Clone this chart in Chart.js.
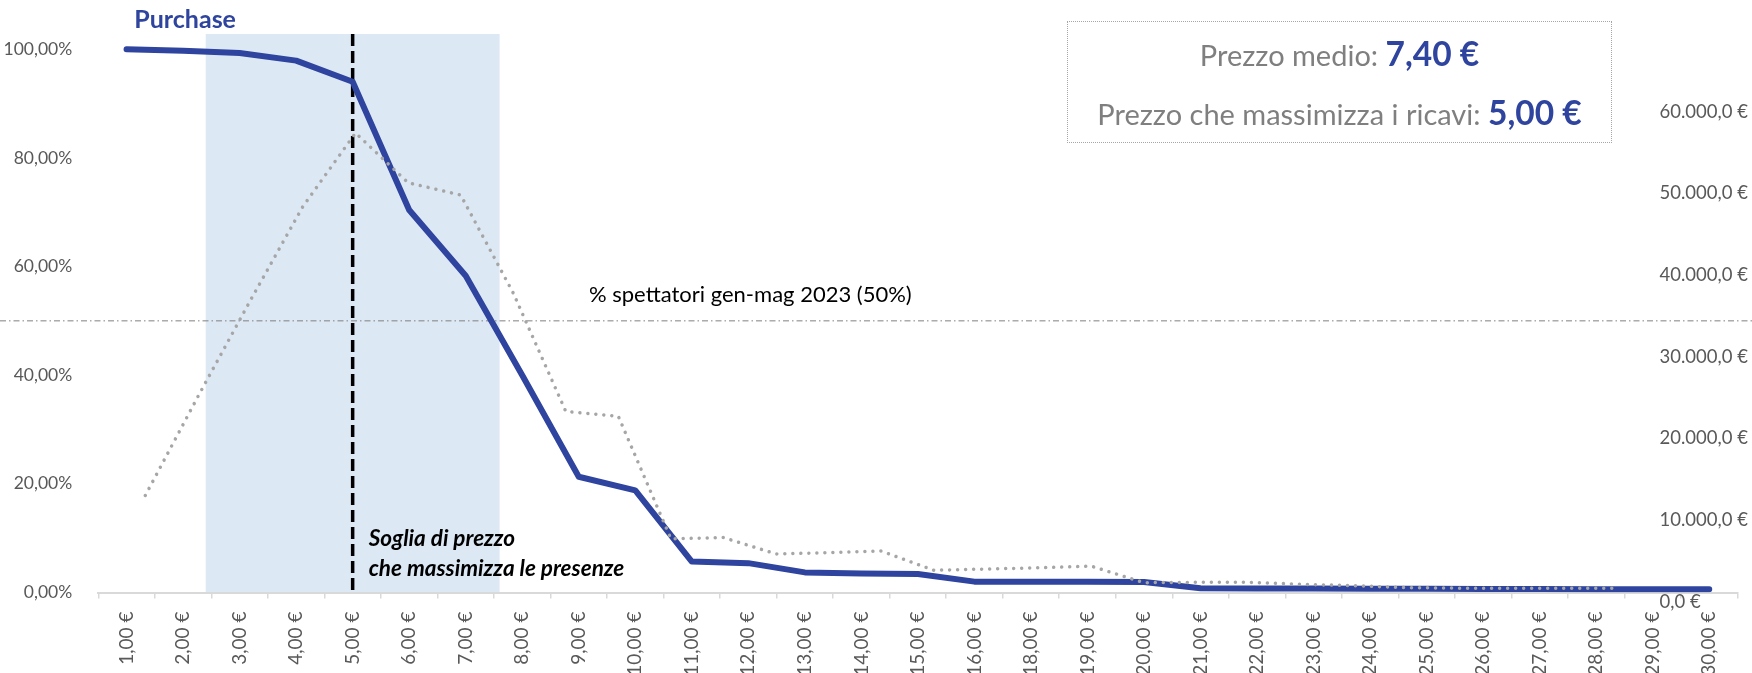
<!DOCTYPE html>
<html lang="it">
<head>
<meta charset="utf-8">
<title>Purchase</title>
<script src="https://cdn.jsdelivr.net/npm/chart.js@4.4.1/dist/chart.umd.min.js"></script>
<style>
  html, body { margin: 0; padding: 0; background: #fff; }
  #wrap { position: relative; width: 1752px; height: 673px; overflow: hidden; }
  #info {
    position: absolute; left: 1067px; top: 21px; width: 543px; height: 120px;
    border: 1.5px dotted #a6a6a6; font-family: Lato, sans-serif; color: #7f7f7f; text-align: center;
  }
  #info div { position: absolute; left: 0; right: 0; height: 40px; line-height: 40px; font-size: 29px; white-space: nowrap; }
  #info b { color: #2e449e; font-size: 33.5px; font-weight: 700; }
</style>
</head>
<body>
<div id="wrap">
  <canvas id="price-chart" width="1752" height="673"></canvas>
  <div id="info">
    <div style="top: 11px">Prezzo medio: <b>7,40 €</b></div>
    <div style="top: 70px">Prezzo che massimizza i ricavi: <b>5,00 €</b></div>
  </div>
</div>
<script>
// fasce di prezzo (17,00 € non rilevato)
const prezzi = ['1,00 €', '2,00 €', '3,00 €', '4,00 €', '5,00 €', '6,00 €', '7,00 €', '8,00 €', '9,00 €', '10,00 €',
  '11,00 €', '12,00 €', '13,00 €', '14,00 €', '15,00 €', '16,00 €', '18,00 €', '19,00 €', '20,00 €', '21,00 €',
  '22,00 €', '23,00 €', '24,00 €', '25,00 €', '26,00 €', '27,00 €', '28,00 €', '29,00 €', '30,00 €']

// % disposti ad acquistare
const acquisto = [100, 99.7, 99.3, 97.9, 94.0, 70.4, 58.3, 40.0, 21.3, 18.8,
  5.7, 5.4, 3.7, 3.5, 3.4, 2.0, 2.0, 2.0, 1.95, 0.8,
  0.75, 0.72, 0.7, 0.68, 0.65, 0.63, 0.62, 0.6, 0.6]

// ricavi stimati (asse destro)
const ricavi = [13000, 25100, 36900, 48400, 57400, 51300, 49800, 37800, 23300, 22700,
  7700, 7850, 5850, 6000, 6200, 3850, 4000, 4150, 4350, 2330,
  2370, 2370, 2130, 1960, 1720, 1660, 1650, 1650, 1650]

const tickPct = [0, 20, 40, 60, 80, 100]
const tickEuro = [0, 10000, 20000, 30000, 40000, 50000, 60000]

const soglia = 4            // indice di 5,00 €
const fasciaPrezzi = [1.4, 6.6]
const spettatori = 50       // % spettatori gen-mag 2023

const blu = '#2e449e'
const grigio = '#595959'

function euro(v) {
    const parts = v.toFixed(1).split('.')
    return parts[0].replace(/\B(?=(\d{3})+(?!\d))/g, '.') + ',' + parts[1] + ' €'
}

const decorazioni = {
    id: 'decorazioni',
    beforeDraw(chart) {
        const {ctx, chartArea: a, scales: {x}} = chart
        const x0 = x.getPixelForValue(fasciaPrezzi[0])
        const x1 = x.getPixelForValue(fasciaPrezzi[1])
        ctx.save()
        ctx.fillStyle = '#dde8f5'
        ctx.fillRect(x0, a.top, x1 - x0, a.bottom - a.top)
        ctx.restore()
    },
    beforeDatasetsDraw(chart) {
        const {ctx, chartArea: a, scales: {x, y}} = chart
        ctx.save()
        // linea spettatori 50%
        const yl = y.getPixelForValue(spettatori)
        ctx.strokeStyle = '#808080'
        ctx.lineWidth = 1
        ctx.setLineDash([6, 3, 1.5, 3])
        ctx.beginPath()
        ctx.moveTo(0, yl)
        ctx.lineTo(chart.width, yl)
        ctx.stroke()
        // soglia di prezzo
        const xs = x.getPixelForValue(soglia)
        ctx.strokeStyle = '#000'
        ctx.lineWidth = 3.5
        ctx.setLineDash([12, 5])
        ctx.beginPath()
        ctx.moveTo(xs, a.top)
        ctx.lineTo(xs, a.bottom)
        ctx.stroke()
        ctx.restore()
    },
    afterDraw(chart) {
        const {ctx, chartArea: a, scales: {x, y, y2}} = chart
        ctx.save()
        ctx.textBaseline = 'middle'
        ctx.textAlign = 'left'

        // etichette asse ricavi, allineate a sinistra dentro il grafico
        ctx.fillStyle = grigio
        ctx.font = '18.5px Lato'
        tickEuro.forEach(v => ctx.fillText(euro(v), a.right - 78, y2.getPixelForValue(v)))

        ctx.fillStyle = blu
        ctx.font = 'bold 25px Lato'
        ctx.fillText('Purchase', a.left + 36, 20)

        ctx.fillStyle = '#000'
        ctx.font = '22px Lato'
        ctx.fillText('% spettatori gen-mag 2023 (50%)', 589, y.getPixelForValue(spettatori) - 26)

        const xs = x.getPixelForValue(soglia)
        ctx.font = 'italic bold 22.5px Lato'
        ctx.fillText('Soglia di prezzo', xs + 16, a.bottom - 54)
        ctx.fillText('che massimizza le presenze', xs + 16, a.bottom - 24)
        ctx.restore()
    }
}

Chart.defaults.font.family = 'Lato'
Chart.defaults.color = grigio

new Chart(document.querySelector('#price-chart'), {
    type: 'line',
    data: {
        labels: prezzi,
        datasets: [
            {
                label: 'Ricavi',
                data: ricavi.map((v, i) => ({x: i, y: v})),
                xAxisID: 'x2',
                yAxisID: 'y2',
                borderColor: '#a6a6a6',
                borderWidth: 3.5,
                borderDash: [0.01, 8],
                borderCapStyle: 'round',
                pointRadius: 0,
                order: 0
            },
            {
                label: 'Purchase',
                data: acquisto,
                xAxisID: 'x',
                yAxisID: 'y',
                borderColor: blu,
                borderWidth: 6,
                borderCapStyle: 'round',
                borderJoinStyle: 'round',
                pointRadius: 0,
                order: 1
            }
        ]
    },
    options: {
        responsive: false,
        animation: false,
        layout: {padding: {top: 34}},
        plugins: {legend: {display: false}, tooltip: {enabled: false}},
        scales: {
            x: {
                type: 'category',
                offset: true,
                grid: {display: true, drawOnChartArea: false, drawTicks: true, tickLength: 6, offset: true, color: '#d9d9d9', lineWidth: 1.5},
                border: {display: true, color: '#d9d9d9', width: 2},
                ticks: {autoSkip: false, maxRotation: 90, minRotation: 90, padding: 13, font: {size: 19}, color: grigio},
                afterFit: s => { s.height = 80.5 }
            },
            x2: {
                type: 'linear',
                display: false,
                min: -0.894,
                max: 30.293
            },
            y: {
                position: 'left',
                min: 0,
                max: 102.8,
                grid: {display: false},
                border: {display: false},
                ticks: {padding: 18, font: {size: 17.5}, color: grigio, callback: v => v.toFixed(2).replace('.', ',') + '%'},
                afterBuildTicks: s => { s.ticks = tickPct.map(v => ({value: v})) },
                afterFit: s => { s.width = 98.3 }
            },
            y2: {
                position: 'right',
                min: 1126,
                max: 69512,
                grid: {display: false},
                border: {display: false},
                ticks: {display: false},
                afterFit: s => { s.width = 14.5 }
            }
        }
    },
    plugins: [decorazioni]
})
</script>
</body>
</html>
